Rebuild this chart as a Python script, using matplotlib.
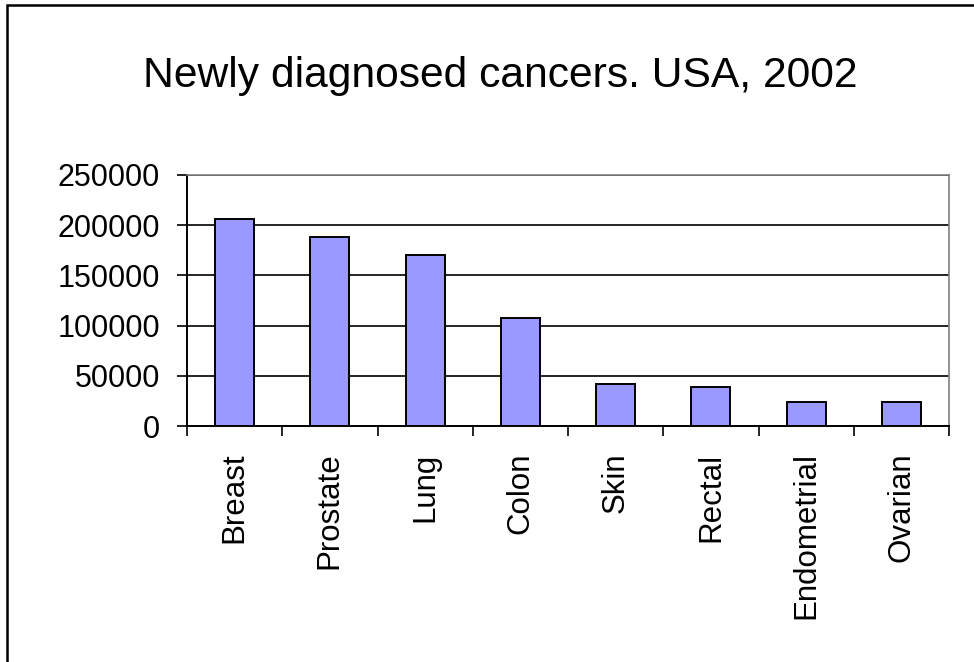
import matplotlib
matplotlib.use("Agg")
import matplotlib.pyplot as plt
from matplotlib.patches import Rectangle
import numpy as np

plt.rcParams.update({
    "font.family": ["Liberation Sans", "DejaVu Sans"],
})

# data
cancers = ["Breast", "Prostate", "Lung", "Colon", "Skin", "Rectal",
           "Endometrial", "Ovarian"]
new_cases = [206000, 188000, 170000, 107500, 42000, 39000, 24000, 23500]
y_ticks = [0, 50000, 100000, 150000, 200000, 250000]

W, H = 974, 662
fig = plt.figure(figsize=(W / 100, H / 100), dpi=100, facecolor="white")

# outer chart frame (runs off the right and bottom edge)
fig.patches.append(Rectangle((7 / W, -0.05), 1.1, 1 - 5 / H + 0.05,
                             transform=fig.transFigure, fill=False,
                             edgecolor="black", linewidth=1.8))

ax = fig.add_axes([187 / W, 1 - 426 / H, (949 - 187) / W, (426 - 175) / H])

x = np.arange(len(cancers))
ax.bar(x, new_cases, width=0.41, color="#9999FF", edgecolor="black",
       linewidth=1.4, zorder=3)

ax.set_xlim(-0.5, len(cancers) - 0.5)
ax.set_ylim(0, 250000)
ax.set_yticks(y_ticks)
ax.set_yticklabels([str(v) for v in y_ticks], fontsize=22)
ax.yaxis.grid(True, color="black", linewidth=1.2, zorder=0)
ax.tick_params(axis="y", length=7.5, width=1.2, pad=12, direction="out")

# boundary ticks between categories, labels at the centres
ax.set_xticks(np.arange(len(cancers) + 1) - 0.5)
ax.set_xticklabels([])
ax.tick_params(axis="x", which="major", length=7.5, width=1.2, direction="out")
ax.set_xticks(x, minor=True)
ax.set_xticklabels(cancers, minor=True, rotation=90, fontsize=22.5)
ax.tick_params(axis="x", which="minor", length=0, pad=19)

for side in ["left", "bottom"]:
    ax.spines[side].set_color("black")
    ax.spines[side].set_linewidth(1.4)
for side in ["top", "right"]:
    ax.spines[side].set_color("#808080")
    ax.spines[side].set_linewidth(1.2)

fig.text(500 / W, 1 - 76 / H, "Newly diagnosed cancers. USA, 2002",
         ha="center", va="center", fontsize=30.7)

fig.savefig("out.png", dpi=100, facecolor="white")
